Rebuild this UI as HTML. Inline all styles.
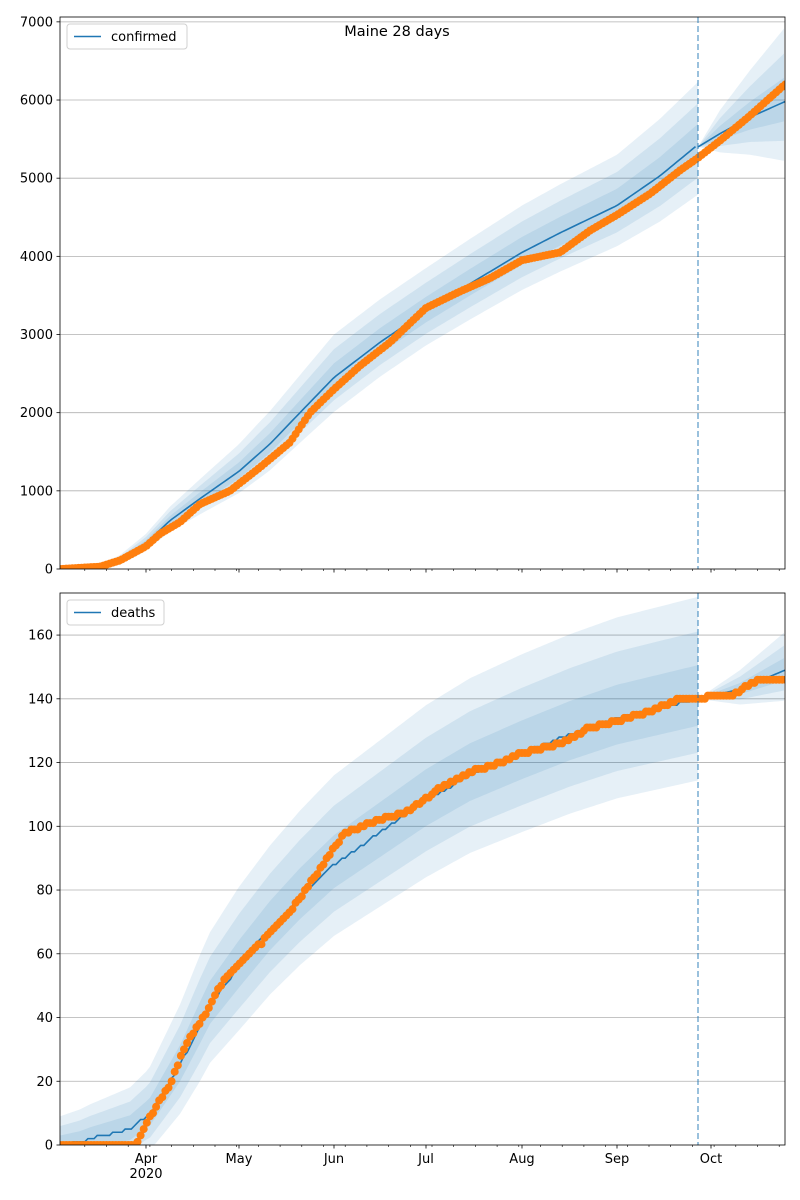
<!DOCTYPE html>
<html><head><meta charset="utf-8"><style>
body{margin:0;background:#fff}
svg{display:block;font-family:"DejaVu Sans","Liberation Sans",sans-serif}
</style></head><body>
<svg id="s" width="800" height="1200" xmlns="http://www.w3.org/2000/svg"></svg>
<script>
const S=document.getElementById('s');let h='';
const X0=60,X1=785;
function interp(k,x){if(x<=k[0][0])return k[0][1];for(let i=1;i<k.length;i++){if(x<=k[i][0]){const a=k[i-1],b=k[i];return a[1]+(b[1]-a[1])*(x-a[0])/(b[0]-a[0]);}}return k[k.length-1][1];}
function panel(top,bot,ymax,ystep,mdl,obs,wd,fmdl,fwd,stepObs,labels,legend,lw){
 const Y=v=>bot-(v/ymax)*(bot-top);
 for(let v=0;v<=ymax+1e-9;v+=ystep){const y=Y(v);if(v>0)h+=`<line x1="${X0}" x2="${X1}" y1="${y}" y2="${y}" stroke="#b0b0b0" stroke-width="0.8"/>`;
  h+=`<line x1="${X0-3.5}" x2="${X0}" y1="${y}" y2="${y}" stroke="#000" stroke-width="0.8"/><text x="${X0-7}" y="${y+4.5}" font-size="13" text-anchor="end">${v}</text>`;}
 h+=`<clipPath id="c${top}"><rect x="${X0}" y="${top}" width="${X1-X0}" height="${bot-top}"/></clipPath><g clip-path="url(#c${top})">`;
 const band=(m,w,xa,xb,f)=>{let up=[],lo=[];for(let x=xa;x<=xb+0.01;x+=2){const mv=interp(m,x),wv=interp(w,x)*f;up.push(`${x},${Y(mv+wv)}`);lo.push(`${x},${Y(Math.max(0,mv-wv*0.8))}`);}return `<polygon points="${up.concat(lo.reverse()).join(' ')}" fill="#1f77b4" fill-opacity="0.11"/>`;};
 for(const f of [1,0.66,0.33]){h+=band(mdl,wd,X0,698,f);h+=band(fmdl,fwd,698,X1,f);}
 let p=[];for(let x=X0;x<=698;x+=3.1){let v=interp(mdl,x);if(stepObs)v=Math.round(v);p.push(`${x},${Y(v)}`);}
 h+=`<polyline points="${p.join(' ')}" fill="none" stroke="#1f77b4" stroke-width="1.6"/>`;
 p=[];for(let x=698;x<=X1;x+=3.1){p.push(`${x},${Y(interp(fmdl,x))}`);}
 h+=`<polyline points="${p.join(' ')}" fill="none" stroke="#1f77b4" stroke-width="1.6"/>`;
 for(let x=X0;x<=X1+0.5;x+=3.1){let v=interp(obs,x);if(stepObs)v=Math.round(v);h+=`<circle cx="${x}" cy="${Y(v)}" r="4" fill="#ff7f0e"/>`;}
 h+=`</g><line x1="698" x2="698" y1="${top}" y2="${bot}" stroke="#1f77b4" stroke-opacity="0.6" stroke-width="1.5" stroke-dasharray="6,3"/>`;
 h+=`<rect x="${X0}" y="${top}" width="${X1-X0}" height="${bot-top}" fill="none" stroke="#000" stroke-width="0.8"/>`;
 const months=[[146,'Apr'],[239,'May'],[334,'Jun'],[426,'Jul'],[522,'Aug'],[617,'Sep'],[711,'Oct']];
 for(const [x,l] of months){h+=`<line x1="${x}" x2="${x}" y1="${bot}" y2="${bot+3.5}" stroke="#000" stroke-width="0.8"/>`;
  if(labels){h+=`<text x="${x}" y="${bot+18}" font-size="13" text-anchor="middle">${l}</text>`;}}
 for(let x=X0+24.8;x<X1;x+=21.7){h+=`<line x1="${x}" x2="${x}" y1="${bot}" y2="${bot+2}" stroke="#000" stroke-width="0.6"/>`;}
 if(labels)h+=`<text x="146" y="${bot+33}" font-size="13" text-anchor="middle">2020</text>`;
 h+=`<rect x="67" y="${top+7}" width="${lw}" height="25" rx="3" fill="#fff" fill-opacity="0.8" stroke="#d0d0d0"/><line x1="74" x2="101" y1="${top+19.5}" y2="${top+19.5}" stroke="#1f77b4" stroke-width="1.6"/><text x="111" y="${top+24}" font-size="13">${legend}</text>`;
}
panel(17,569,7062,1000,
 [[60,0],[100,25],[120,110],[146,330],[170,620],[200,900],[239,1250],[270,1600],[300,2000],[334,2450],[380,2900],[426,3300],[470,3650],[522,4050],[560,4300],[617,4650],[660,5030],[698,5430]],
 [[60,0],[100,30],[120,110],[146,290],[160,450],[180,600],[200,830],[230,1000],[260,1300],[290,1620],[310,2000],[334,2300],[360,2600],[390,2900],[426,3340],[460,3550],[490,3720],[522,3950],[560,4050],[590,4330],[617,4530],[650,4800],[680,5100],[698,5260],[720,5480],[750,5800],[785,6200]],
 [[60,0],[100,30],[146,120],[200,250],[260,400],[334,550],[426,550],[522,600],[617,650],[698,800]],
 [[698,5400],[720,5570],[750,5780],[785,5980]],
 [[698,0],[720,300],[750,600],[785,950]],false,false,'confirmed',120);
panel(593,1145,173.2,20,
 [[60,0],[80,1],[90,2],[130,5],[150,10],[180,25],[210,44],[239,56],[270,68],[300,78],[334,88],[380,98],[426,108],[470,116],[522,123],[570,129],[617,134],[698,140]],
 [[60,0],[135,0],[140,3],[150,9],[160,14],[170,19],[180,27],[190,34],[200,38],[220,50],[239,57],[260,63],[290,73],[310,82],[325,89],[345,98],[380,102],[410,105],[440,112],[470,117],[500,120],[522,123],[560,126],[590,131],[617,133],[650,136],[680,140],[730,141],[760,146],[785,146]],
 [[60,9],[146,14],[200,22],[239,25],[334,28],[426,30],[522,31],[698,32]],
 [[698,140],[740,143],[785,149]],
 [[698,0],[740,6],[785,12]],true,true,'deaths',97);
h+=`<text x="397" y="36" font-size="14.5" text-anchor="middle">Maine 28 days</text>`;
S.innerHTML=h;
</script>
</body></html>
